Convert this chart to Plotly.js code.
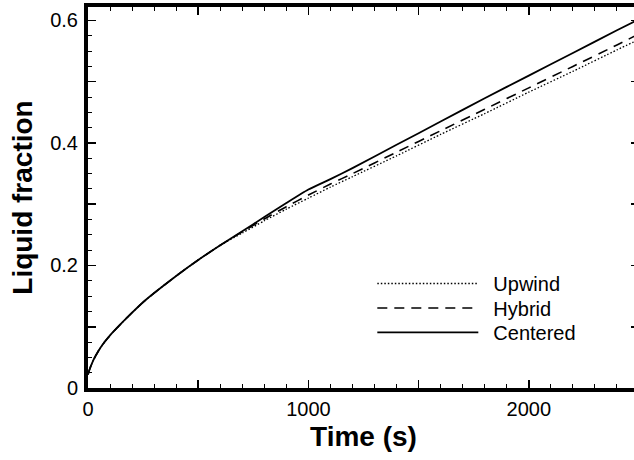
<!DOCTYPE html>
<html>
<head>
<meta charset="utf-8">
<script src="https://cdn.plot.ly/plotly-3.0.1.min.js"></script>
<style>
html,body{margin:0;padding:0;overflow:hidden;background:#fff;}
#chart{width:641px;height:460px;}
</style>
</head>
<body>
<div id="chart"></div>
<script>
// Time (s)
var timeEarly = [0, 10, 25, 50, 75, 100, 150, 200, 250, 300, 400, 500, 600];
var valuesEarly = [0.022, 0.033, 0.046, 0.062, 0.075, 0.086, 0.105, 0.123, 0.140, 0.155, 0.183, 0.209, 0.233];

var timeLate = [700, 800, 900, 1000, 1100, 1200, 1400, 1600, 1800, 2000, 2200, 2400, 2500];
var upwindLate   = [0.253, 0.273, 0.292, 0.310, 0.328, 0.345, 0.379, 0.414, 0.448, 0.483, 0.517, 0.552, 0.569];
var hybridLate   = [0.255, 0.276, 0.296, 0.315, 0.333, 0.350, 0.385, 0.420, 0.455, 0.490, 0.525, 0.560, 0.578];
var centeredLate = [0.256, 0.279, 0.302, 0.324, 0.341, 0.359, 0.397, 0.435, 0.473, 0.510, 0.547, 0.584, 0.602];

var seriesNames = ['Upwind', 'Hybrid', 'Centered'];

var xTickVals = [0, 500, 1000, 1500, 2000, 2500];
var xTickText = ['0', '', '1000', '', '2000', ''];
var yTickVals = [0, 0.1, 0.2, 0.3, 0.4, 0.5, 0.6];
var yTickText = ['0', '', '0.2', '', '0.4', '', '0.6'];

var t = timeEarly.concat(timeLate);
var up = valuesEarly.concat(upwindLate);
var hy = valuesEarly.concat(hybridLate);
var ce = valuesEarly.concat(centeredLate);

var font = 'Liberation Sans, Arial, Helvetica, sans-serif';
var gap = '\u2002';

var traces = [
  {x: t, y: up, name: gap + seriesNames[0], legend: 'legend', mode: 'lines', line: {color: '#000', width: 1.3, dash: '1.5px,2px', shape: 'spline', smoothing: 0.6}},
  {x: t, y: hy, name: gap + seriesNames[1], legend: 'legend2', mode: 'lines', line: {color: '#000', width: 1.6, dash: '10px,7px', shape: 'spline', smoothing: 0.6}},
  {x: t, y: ce, name: gap + seriesNames[2], legend: 'legend3', mode: 'lines', line: {color: '#000', width: 1.8, shape: 'spline', smoothing: 0.6}}
];

function leg(y) {
  return {
    x: 0.516, y: y, xanchor: 'left', yanchor: 'top',
    bgcolor: 'rgba(0,0,0,0)', itemwidth: 101,
    font: {family: font, size: 20, color: '#000'}
  };
}

var layout = {
  width: 641, height: 460,
  margin: {l: 88, r: 2, t: 7, b: 72},
  paper_bgcolor: '#fff', plot_bgcolor: '#fff',
  font: {family: font, color: '#000', size: 20},
  showlegend: true,
  legend: leg(0.3255),
  legend2: leg(0.261),
  legend3: leg(0.197),
  xaxis: {
    range: [0, 2500], autorange: false,
    showgrid: false, zeroline: false,
    showline: true, linewidth: 4, linecolor: '#000', mirror: 'ticks',
    ticks: 'inside', ticklen: 8, tickwidth: 1.5, tickcolor: '#000',
    tickmode: 'array', tickvals: xTickVals, ticktext: xTickText,
    tickfont: {family: font, size: 20, color: '#000'},
    minor: {dtick: 100, tick0: 0, ticks: 'inside', ticklen: 4, tickwidth: 1, tickcolor: '#000', showgrid: false},
    title: {text: 'Time (s)', font: {family: font, size: 28, color: '#000', weight: 'bold'}, standoff: 8}
  },
  yaxis: {
    range: [0, 0.622], autorange: false,
    showgrid: false, zeroline: false,
    showline: true, linewidth: 4, linecolor: '#000', mirror: 'ticks',
    ticks: 'inside', ticklen: 8, tickwidth: 1.5, tickcolor: '#000',
    tickmode: 'array', tickvals: yTickVals, ticktext: yTickText,
    tickfont: {family: font, size: 20, color: '#000'},
    ticklabelstandoff: 2,
    minor: {dtick: 0.025, tick0: 0, ticks: 'inside', ticklen: 4, tickwidth: 1, tickcolor: '#000', showgrid: false},
    title: {text: 'Liquid fraction', font: {family: font, size: 28, color: '#000', weight: 'bold'}, standoff: 10}
  }
};

Plotly.newPlot('chart', traces, layout, {displayModeBar: false, staticPlot: true});
</script>
</body>
</html>
